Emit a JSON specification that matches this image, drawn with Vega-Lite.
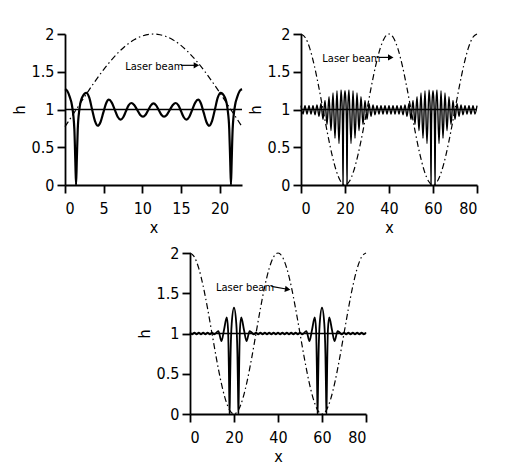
{
"$schema": "https://vega.github.io/schema/vega-lite/v6.json",
"background": "white",
"padding": {"left": 11, "top": 26, "right": 5, "bottom": 5},
"datasets": {
"p1las": [{"x":0,"h":0.774},{"x":1,"h":0.929},{"x":2,"h":1.086},{"x":3,"h":1.241},{"x":4,"h":1.39},{"x":5,"h":1.529},{"x":6,"h":1.655},{"x":7,"h":1.765},{"x":8,"h":1.857},{"x":9,"h":1.927},{"x":10,"h":1.974},{"x":11,"h":1.998},{"x":11.45,"h":2},{"x":12,"h":1.996},{"x":13,"h":1.97},{"x":14,"h":1.921},{"x":15,"h":1.849},{"x":16,"h":1.755},{"x":17,"h":1.643},{"x":18,"h":1.516},{"x":19,"h":1.375},{"x":20,"h":1.226},{"x":21,"h":1.071},{"x":22,"h":0.914},{"x":22.9,"h":0.774}],
"p1osc": [{"x":0,"h":1.27},{"x":0.3,"h":1.245},{"x":0.6,"h":1.17},{"x":0.91,"h":1.05},{"x":1.21,"h":0.74},{"x":1.34,"h":0.3},{"x":1.43,"h":0},{"x":1.52,"h":0.3},{"x":1.65,"h":0.74},{"x":1.86,"h":1.0},{"x":2.21,"h":1.16},{"x":2.77,"h":1.22},{"x":3.14,"h":1.156},{"x":3.505,"h":1.0},{"x":3.87,"h":0.849},{"x":4.24,"h":0.785},{"x":4.6,"h":0.835},{"x":4.955,"h":0.958},{"x":5.31,"h":1.08},{"x":5.67,"h":1.13},{"x":6.05,"h":1.091},{"x":6.43,"h":0.998},{"x":6.81,"h":0.904},{"x":7.19,"h":0.865},{"x":7.535,"h":0.897},{"x":7.88,"h":0.976},{"x":8.225,"h":1.054},{"x":8.57,"h":1.086},{"x":8.95,"h":1.06},{"x":9.33,"h":0.996},{"x":9.71,"h":0.931},{"x":10.09,"h":0.905},{"x":10.43,"h":0.931},{"x":10.77,"h":0.993},{"x":11.11,"h":1.054},{"x":11.45,"h":1.08},{"x":11.79,"h":1.054},{"x":12.13,"h":0.993},{"x":12.47,"h":0.931},{"x":12.81,"h":0.905},{"x":13.19,"h":0.931},{"x":13.57,"h":0.996},{"x":13.95,"h":1.06},{"x":14.33,"h":1.086},{"x":14.675,"h":1.054},{"x":15.02,"h":0.976},{"x":15.365,"h":0.897},{"x":15.71,"h":0.865},{"x":16.09,"h":0.904},{"x":16.47,"h":0.998},{"x":16.85,"h":1.091},{"x":17.23,"h":1.13},{"x":17.59,"h":1.08},{"x":17.945,"h":0.958},{"x":18.3,"h":0.835},{"x":18.66,"h":0.785},{"x":19.03,"h":0.849},{"x":19.395,"h":1.0},{"x":19.76,"h":1.156},{"x":20.13,"h":1.22},{"x":20.69,"h":1.16},{"x":21.04,"h":1.0},{"x":21.25,"h":0.74},{"x":21.38,"h":0.3},{"x":21.47,"h":0},{"x":21.56,"h":0.3},{"x":21.69,"h":0.74},{"x":21.99,"h":1.05},{"x":22.3,"h":1.17},{"x":22.6,"h":1.245},{"x":22.9,"h":1.27}],
"las": [{"x":0,"h":2},{"x":2,"h":1.951},{"x":4,"h":1.809},{"x":6,"h":1.588},{"x":8,"h":1.309},{"x":10,"h":1},{"x":12,"h":0.691},{"x":14,"h":0.412},{"x":16,"h":0.191},{"x":18,"h":0.049},{"x":20,"h":0},{"x":22,"h":0.049},{"x":24,"h":0.191},{"x":26,"h":0.412},{"x":28,"h":0.691},{"x":30,"h":1},{"x":32,"h":1.309},{"x":34,"h":1.588},{"x":36,"h":1.809},{"x":38,"h":1.951},{"x":40,"h":2},{"x":42,"h":1.951},{"x":44,"h":1.809},{"x":46,"h":1.588},{"x":48,"h":1.309},{"x":50,"h":1},{"x":52,"h":0.691},{"x":54,"h":0.412},{"x":56,"h":0.191},{"x":58,"h":0.049},{"x":60,"h":0},{"x":62,"h":0.049},{"x":64,"h":0.191},{"x":66,"h":0.412},{"x":68,"h":0.691},{"x":70,"h":1},{"x":72,"h":1.309},{"x":74,"h":1.588},{"x":76,"h":1.809},{"x":78,"h":1.951},{"x":80,"h":2}],
"p2osc": [{"x":0,"h":1.05},{"x":0.91,"h":0.94},{"x":1.82,"h":1.05},{"x":2.73,"h":0.94},{"x":3.64,"h":1.05},{"x":4.55,"h":0.94},{"x":5.45,"h":1.05},{"x":6.36,"h":0.93},{"x":7.27,"h":1.06},{"x":8.18,"h":0.91},{"x":9.09,"h":1.08},{"x":10.0,"h":0.87},{"x":10.91,"h":1.12},{"x":11.82,"h":0.8},{"x":12.73,"h":1.17},{"x":13.64,"h":0.72},{"x":14.55,"h":1.22},{"x":15.45,"h":0.62},{"x":16.36,"h":1.25},{"x":17.27,"h":0.55},{"x":18.18,"h":1.26},{"x":18.6,"h":1.1},{"x":18.9,"h":0.7},{"x":19.09,"h":0},{"x":19.28,"h":0.7},{"x":19.58,"h":1.1},{"x":20.0,"h":1.25},{"x":20.42,"h":1.1},{"x":20.72,"h":0.7},{"x":20.91,"h":0},{"x":21.1,"h":0.7},{"x":21.4,"h":1.1},{"x":21.82,"h":1.26},{"x":22.73,"h":0.55},{"x":23.64,"h":1.25},{"x":24.55,"h":0.62},{"x":25.45,"h":1.22},{"x":26.36,"h":0.72},{"x":27.27,"h":1.17},{"x":28.18,"h":0.8},{"x":29.09,"h":1.12},{"x":30.0,"h":0.87},{"x":30.91,"h":1.08},{"x":31.82,"h":0.91},{"x":32.73,"h":1.06},{"x":33.64,"h":0.93},{"x":34.55,"h":1.05},{"x":35.45,"h":0.94},{"x":36.36,"h":1.05},{"x":37.27,"h":0.94},{"x":38.18,"h":1.05},{"x":39.09,"h":0.94},{"x":40,"h":1.05},{"x":40.91,"h":0.94},{"x":41.82,"h":1.05},{"x":42.73,"h":0.94},{"x":43.64,"h":1.05},{"x":44.55,"h":0.94},{"x":45.45,"h":1.05},{"x":46.36,"h":0.93},{"x":47.27,"h":1.06},{"x":48.18,"h":0.91},{"x":49.09,"h":1.08},{"x":50.0,"h":0.87},{"x":50.91,"h":1.12},{"x":51.82,"h":0.8},{"x":52.73,"h":1.17},{"x":53.64,"h":0.72},{"x":54.55,"h":1.22},{"x":55.45,"h":0.62},{"x":56.36,"h":1.25},{"x":57.27,"h":0.55},{"x":58.18,"h":1.26},{"x":58.6,"h":1.1},{"x":58.9,"h":0.7},{"x":59.09,"h":0},{"x":59.28,"h":0.7},{"x":59.58,"h":1.1},{"x":60.0,"h":1.25},{"x":60.42,"h":1.1},{"x":60.72,"h":0.7},{"x":60.91,"h":0},{"x":61.1,"h":0.7},{"x":61.4,"h":1.1},{"x":61.82,"h":1.26},{"x":62.73,"h":0.55},{"x":63.64,"h":1.25},{"x":64.55,"h":0.62},{"x":65.45,"h":1.22},{"x":66.36,"h":0.72},{"x":67.27,"h":1.17},{"x":68.18,"h":0.8},{"x":69.09,"h":1.12},{"x":70.0,"h":0.87},{"x":70.91,"h":1.08},{"x":71.82,"h":0.91},{"x":72.73,"h":1.06},{"x":73.64,"h":0.93},{"x":74.55,"h":1.05},{"x":75.45,"h":0.94},{"x":76.36,"h":1.05},{"x":77.27,"h":0.94},{"x":78.18,"h":1.05},{"x":79.09,"h":0.94},{"x":80,"h":1.05}],
"p3osc": [{"x":0,"h":1.012},{"x":1,"h":0.988},{"x":2,"h":1.012},{"x":3,"h":0.988},{"x":4,"h":1.012},{"x":5,"h":0.988},{"x":6,"h":1.012},{"x":7,"h":0.988},{"x":8,"h":1.012},{"x":9,"h":0.988},{"x":10,"h":1.012},{"x":11,"h":0.988},{"x":12.9,"h":1.03},{"x":14.3,"h":0.905},{"x":15.5,"h":1.05},{"x":16.7,"h":1.2},{"x":17.3,"h":1.05},{"x":17.65,"h":0.6},{"x":17.85,"h":0.2},{"x":18,"h":0},{"x":18.15,"h":0.25},{"x":18.45,"h":0.75},{"x":18.95,"h":1.12},{"x":20,"h":1.32},{"x":21.05,"h":1.12},{"x":21.55,"h":0.75},{"x":21.85,"h":0.25},{"x":22,"h":0},{"x":22.15,"h":0.2},{"x":22.35,"h":0.6},{"x":22.7,"h":1.05},{"x":23.3,"h":1.2},{"x":24.5,"h":1.05},{"x":25.7,"h":0.905},{"x":27.1,"h":1.03},{"x":28,"h":1.012},{"x":29,"h":0.988},{"x":30,"h":1.012},{"x":31,"h":0.988},{"x":32,"h":1.012},{"x":33,"h":0.988},{"x":34,"h":1.012},{"x":35,"h":0.988},{"x":36,"h":1.012},{"x":37,"h":0.988},{"x":38,"h":1.012},{"x":39,"h":0.988},{"x":40,"h":1.012},{"x":41,"h":0.988},{"x":42,"h":1.012},{"x":43,"h":0.988},{"x":44,"h":1.012},{"x":45,"h":0.988},{"x":46,"h":1.012},{"x":47,"h":0.988},{"x":48,"h":1.012},{"x":49,"h":0.988},{"x":50,"h":1.012},{"x":51,"h":0.988},{"x":52.9,"h":1.03},{"x":54.3,"h":0.905},{"x":55.5,"h":1.05},{"x":56.7,"h":1.2},{"x":57.3,"h":1.05},{"x":57.65,"h":0.6},{"x":57.85,"h":0.2},{"x":58,"h":0},{"x":58.15,"h":0.25},{"x":58.45,"h":0.75},{"x":58.95,"h":1.12},{"x":60,"h":1.32},{"x":61.05,"h":1.12},{"x":61.55,"h":0.75},{"x":61.85,"h":0.25},{"x":62,"h":0},{"x":62.15,"h":0.2},{"x":62.35,"h":0.6},{"x":62.7,"h":1.05},{"x":63.3,"h":1.2},{"x":64.5,"h":1.05},{"x":65.7,"h":0.905},{"x":67.1,"h":1.03},{"x":68,"h":1.012},{"x":69,"h":0.988},{"x":70,"h":1.012},{"x":71,"h":0.988},{"x":72,"h":1.012},{"x":73,"h":0.988},{"x":74,"h":1.012},{"x":75,"h":0.988},{"x":76,"h":1.012},{"x":77,"h":0.988},{"x":78,"h":1.012},{"x":79,"h":0.988},{"x":80,"h":1.012}]
},
"vconcat": [
{"hconcat": [
{"width": 177, "height": 151,
"encoding": {
"x": {"field":"x","type":"quantitative","scale":{"domain":[0,22.9],"nice":false,"zero":false},"axis":{"values":[0,5,10,15,20],"title":"x","format":"d"}},
"y": {"field":"h","type":"quantitative","scale":{"domain":[0,2],"nice":false},"axis":{"values":[0,0.5,1,1.5,2],"title":"h","format":"~g"}}},
"layer": [
{"data":{"name":"p1las"},"mark":{"type":"line","interpolate":"monotone","color":"black","strokeWidth":1.2,"strokeDash":[6,3,1.5,3]}},
{"data":{"values":[{"x":0,"h":1},{"x":22.9,"h":1}]},"mark":{"type":"line","color":"black","strokeWidth":1.5}},
{"data":{"name":"p1osc"},"mark":{"type":"line","interpolate":"monotone","color":"black","strokeWidth":2.2}},
{"data":{"values":[{"x":7.8,"h":1.56,"label":"Laser beam"}]},"mark":{"type":"text","align":"left","baseline":"middle","font":"DejaVu Sans Condensed, Liberation Sans, sans-serif","fontSize":11,"color":"black"},"encoding":{"text":{"field":"label"}}},
{"data":{"values":[{"x":15.0,"x2":17.0,"h":1.585}]},"mark":{"type":"rule","color":"black","strokeWidth":1.2},"encoding":{"x2":{"field":"x2"}}},
{"data":{"values":[{"x":17.0,"h":1.585}]},"mark":{"type":"point","shape":"triangle-right","filled":true,"color":"black","size":40,"opacity":1}}
]},
{"width": 176, "height": 151,
"encoding": {
"x": {"field":"x","type":"quantitative","scale":{"domain":[0,80],"nice":false,"zero":false},"axis":{"values":[0,20,40,60,80],"title":"x","format":"d"}},
"y": {"field":"h","type":"quantitative","scale":{"domain":[0,2],"nice":false},"axis":{"values":[0,0.5,1,1.5,2],"title":"h","format":"~g"}}},
"layer": [
{"data":{"name":"las"},"mark":{"type":"line","interpolate":"monotone","color":"black","strokeWidth":1.2,"strokeDash":[6,3,1.5,3]}},
{"data":{"values":[{"x":0,"h":1},{"x":80,"h":1}]},"mark":{"type":"line","color":"black","strokeWidth":1.5}},
{"data":{"name":"p2osc"},"mark":{"type":"line","interpolate":"monotone","color":"black","strokeWidth":1.4}},
{"data":{"values":[{"x":9.7,"h":1.67,"label":"Laser beam"}]},"mark":{"type":"text","align":"left","baseline":"middle","font":"DejaVu Sans Condensed, Liberation Sans, sans-serif","fontSize":11,"color":"black"},"encoding":{"text":{"field":"label"}}},
{"data":{"values":[{"x":35.3,"x2":40.8,"h":1.69}]},"mark":{"type":"rule","color":"black","strokeWidth":1.2},"encoding":{"x2":{"field":"x2"}}},
{"data":{"values":[{"x":40.8,"h":1.69}]},"mark":{"type":"point","shape":"triangle-right","filled":true,"color":"black","size":40,"opacity":1}}
]}
], "spacing": 0},
{"hconcat": [
{"width": 46, "height": 20, "data": {"values": [{"x":0}]}, "mark": {"type":"point","opacity":0}, "encoding": {}},
{"width": 176, "height": 161,
"encoding": {
"x": {"field":"x","type":"quantitative","scale":{"domain":[0,80],"nice":false,"zero":false},"axis":{"values":[0,20,40,60,80],"title":"x","format":"d"}},
"y": {"field":"h","type":"quantitative","scale":{"domain":[0,2],"nice":false},"axis":{"values":[0,0.5,1,1.5,2],"title":"h","format":"~g"}}},
"layer": [
{"data":{"name":"las"},"mark":{"type":"line","interpolate":"monotone","color":"black","strokeWidth":1.2,"strokeDash":[6,3,1.5,3]}},
{"data":{"values":[{"x":0,"h":1},{"x":80,"h":1}]},"mark":{"type":"line","color":"black","strokeWidth":1.5}},
{"data":{"name":"p3osc"},"mark":{"type":"line","interpolate":"monotone","color":"black","strokeWidth":1.8}},
{"data":{"values":[{"x":11.8,"h":1.57,"label":"Laser beam"}]},"mark":{"type":"text","align":"left","baseline":"middle","font":"DejaVu Sans Condensed, Liberation Sans, sans-serif","fontSize":11,"color":"black"},"encoding":{"text":{"field":"label"}}},
{"data":{"values":[{"x":37.0,"x2":44.3,"h":1.585,"h2":1.55}]},"mark":{"type":"rule","color":"black","strokeWidth":1.2},"encoding":{"x2":{"field":"x2"},"y2":{"field":"h2"}}},
{"data":{"values":[{"x":44.4,"h":1.548}]},"mark":{"type":"point","shape":"triangle-right","filled":true,"color":"black","size":40,"opacity":1,"angle":10}}
]}
], "spacing": 25}
],
"spacing": 10,
"config": {
"view": {"stroke": null},
"axis": {"grid": false, "domainColor": "black", "domainWidth": 1.8, "tickColor": "black", "tickWidth": 1.8, "tickSize": 8, "labelPadding": 3, "labelFont": "DejaVu Sans Condensed, Liberation Sans, sans-serif", "labelFontSize": 16, "labelColor": "black", "titleFont": "DejaVu Sans Condensed, Liberation Sans, sans-serif", "titleFontSize": 16, "titleFontWeight": "normal", "titleColor": "black", "titlePadding": 4},
"axisX": {"labelPadding": 7, "titlePadding": 3}
}
}
